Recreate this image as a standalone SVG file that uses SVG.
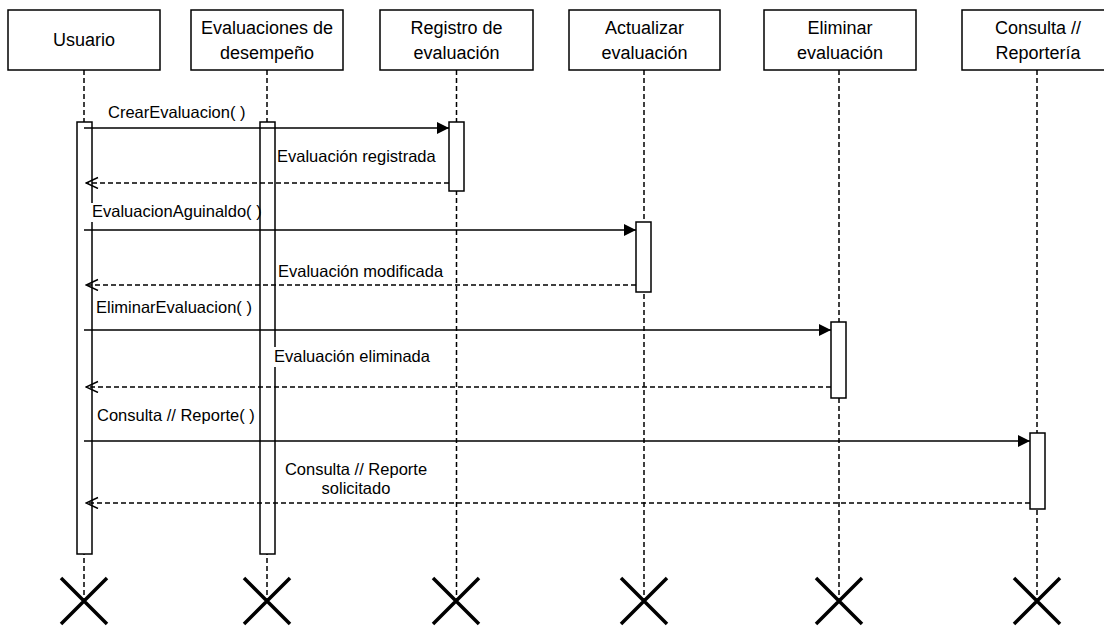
<svg xmlns="http://www.w3.org/2000/svg" width="1104" height="627" viewBox="0 0 1104 627">
  <style>
    .head { fill: #ffffff; stroke: #000000; stroke-width: 1.5; }
    .head-text { font-family: "Liberation Sans", Arial, sans-serif; font-size: 18px; fill: #000000; text-anchor: middle; }
    .life { stroke: #000000; stroke-width: 1.5; stroke-dasharray: 5 3; fill: none; }
    .bar { fill: #ffffff; stroke: #000000; stroke-width: 1.5; }
    .destroy { stroke: #000000; stroke-width: 3.5; fill: none; }
    .call { stroke: #000000; stroke-width: 1.5; fill: none; marker-end: url(#block); }
    .reply { stroke: #000000; stroke-width: 1.5; stroke-dasharray: 5 3; fill: none; marker-end: url(#open); }
    .lbl { font-family: "Liberation Sans", Arial, sans-serif; font-size: 16.5px; fill: #000000; }
    .lbl-bg { fill: #ffffff; }
  </style>
  <defs>
    <marker id="block" markerUnits="userSpaceOnUse" markerWidth="13" markerHeight="13" refX="12" refY="6" orient="auto">
      <path d="M0,0 L12,6 L0,12 Z" fill="#000000" stroke="none"/>
    </marker>
    <marker id="open" markerUnits="userSpaceOnUse" markerWidth="14" markerHeight="14" refX="12.5" refY="6" orient="auto">
      <path d="M0.5,0.5 L12.5,6 L0.5,11.5" fill="none" stroke="#000000" stroke-width="1.5"/>
    </marker>
  </defs>
  <rect width="1104" height="627" fill="#ffffff"/>

  <!-- Usuario -->
  <g id="usuario">
    <rect class="head" x="8" y="10" width="152" height="60"/>
    <text class="head-text" x="84" y="46">Usuario</text>
    <line class="life" x1="84" y1="70" x2="84" y2="601"/>
    <rect class="bar" x="77" y="122" width="15" height="432"/>
    <path class="destroy" d="M61,578 L107,624 M107,578 L61,624"/>
  </g>

  <!-- Evaluaciones de desempeño -->
  <g id="evaluaciones">
    <rect class="head" x="191" y="10" width="152" height="60"/>
    <text class="head-text" x="267" y="34">Evaluaciones de</text>
    <text class="head-text" x="267" y="59">desempeño</text>
    <line class="life" x1="267" y1="70" x2="267" y2="601"/>
    <rect class="bar" x="260" y="122" width="15" height="432"/>
    <path class="destroy" d="M244,578 L290,624 M290,578 L244,624"/>
  </g>

  <!-- Registro de evaluación -->
  <g id="registro">
    <rect class="head" x="380" y="10" width="153" height="60"/>
    <text class="head-text" x="456.5" y="34">Registro de</text>
    <text class="head-text" x="456.5" y="59">evaluación</text>
    <line class="life" x1="456.5" y1="70" x2="456.5" y2="601"/>
    <rect class="bar" x="449" y="122" width="15" height="69"/>
    <path class="destroy" d="M433,578 L479,624 M479,578 L433,624"/>
  </g>

  <!-- Actualizar evaluación -->
  <g id="actualizar">
    <rect class="head" x="569" y="10" width="151" height="60"/>
    <text class="head-text" x="644.5" y="34">Actualizar</text>
    <text class="head-text" x="644.5" y="59">evaluación</text>
    <line class="life" x1="644" y1="70" x2="644" y2="601"/>
    <rect class="bar" x="636" y="222" width="15" height="70"/>
    <path class="destroy" d="M621,578 L667,624 M667,578 L621,624"/>
  </g>

  <!-- Eliminar evaluación -->
  <g id="eliminar">
    <rect class="head" x="764" y="10" width="152" height="60"/>
    <text class="head-text" x="840" y="34">Eliminar</text>
    <text class="head-text" x="840" y="59">evaluación</text>
    <line class="life" x1="839" y1="70" x2="839" y2="601"/>
    <rect class="bar" x="831" y="322" width="15" height="76"/>
    <path class="destroy" d="M816,578 L862,624 M862,578 L816,624"/>
  </g>

  <!-- Consulta // Reportería -->
  <g id="consulta">
    <rect class="head" x="962" y="10" width="152" height="60"/>
    <text class="head-text" x="1038" y="34">Consulta //</text>
    <text class="head-text" x="1038" y="59">Reportería</text>
    <line class="life" x1="1037" y1="70" x2="1037" y2="601"/>
    <rect class="bar" x="1030" y="433" width="15" height="76"/>
    <path class="destroy" d="M1014,578 L1060,624 M1060,578 L1014,624"/>
  </g>

  <!-- Messages -->
  <g id="connectors">
    <line class="call" x1="84" y1="128" x2="449" y2="128"/>
    <text class="lbl" x="108" y="118">CrearEvaluacion( )</text>

    <line class="reply" x1="449" y1="183" x2="86" y2="183"/>
    <text class="lbl" x="277" y="162">Evaluación registrada</text>

    <line class="call" x1="84" y1="230" x2="636" y2="230"/>
    <rect class="lbl-bg" x="91" y="203" width="168" height="19"/>
    <text class="lbl" x="92" y="217">EvaluacionAguinaldo( )</text>

    <line class="reply" x1="636" y1="285" x2="86" y2="285"/>
    <text class="lbl" x="278" y="277">Evaluación modificada</text>

    <line class="call" x1="84" y1="330" x2="831" y2="330"/>
    <text class="lbl" x="96" y="313">EliminarEvaluacion( )</text>

    <line class="reply" x1="831" y1="387" x2="86" y2="387"/>
    <rect class="lbl-bg" x="273" y="347" width="159" height="20"/>
    <text class="lbl" x="274" y="362">Evaluación eliminada</text>

    <line class="call" x1="84" y1="441" x2="1030" y2="441"/>
    <text class="lbl" x="97" y="421">Consulta // Reporte( )</text>

    <line class="reply" x1="1030" y1="503" x2="86" y2="503"/>
    <text class="lbl" x="356" y="475" text-anchor="middle">Consulta // Reporte</text>
    <text class="lbl" x="356" y="494" text-anchor="middle">solicitado</text>
  </g>
</svg>
